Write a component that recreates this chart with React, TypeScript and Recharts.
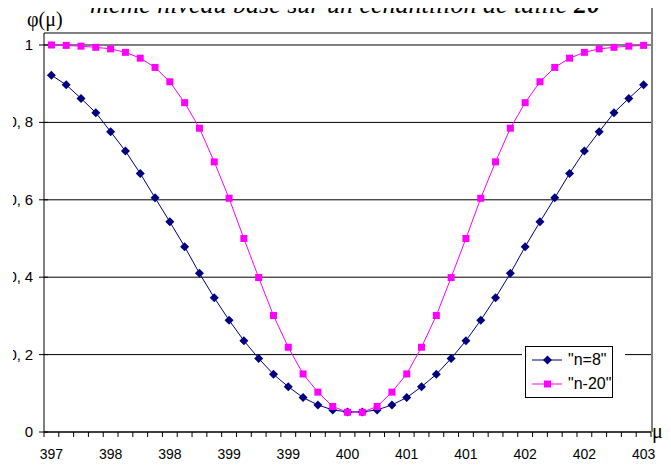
import { LineChart, Line, XAxis, YAxis, CartesianGrid } from 'recharts';

const muValues = [
  397, 397.15, 397.3, 397.45, 397.6, 397.75, 397.9, 398.05, 398.2, 398.35,
  398.5, 398.65, 398.8, 398.95, 399.1, 399.25, 399.4, 399.55, 399.7, 399.85,
  400, 400.15, 400.3, 400.45, 400.6, 400.75, 400.9, 401.05, 401.2, 401.35,
  401.5, 401.65, 401.8, 401.95, 402.1, 402.25, 402.4, 402.55, 402.7, 402.85, 403,
];

const phiN8 = [
  0.922, 0.897, 0.862, 0.825, 0.776, 0.726, 0.668, 0.605, 0.543, 0.479,
  0.41, 0.347, 0.289, 0.236, 0.19, 0.149, 0.117, 0.089, 0.07, 0.057,
  0.052, 0.052, 0.057, 0.07, 0.089, 0.117, 0.149, 0.19, 0.236, 0.289,
  0.347, 0.41, 0.479, 0.543, 0.605, 0.668, 0.726, 0.776, 0.825, 0.862, 0.897,
];

const phiN20 = [
  1.0, 0.999, 0.997, 0.994, 0.99, 0.981, 0.966, 0.942, 0.905, 0.851,
  0.785, 0.698, 0.604, 0.5, 0.399, 0.301, 0.219, 0.15, 0.103, 0.066,
  0.051, 0.051, 0.066, 0.103, 0.15, 0.219, 0.301, 0.399, 0.5, 0.604,
  0.698, 0.785, 0.851, 0.905, 0.942, 0.966, 0.981, 0.99, 0.994, 0.997, 0.999,
];

const yTicks = [0, 0.2, 0.4, 0.6, 0.8, 1];
const yTickLabels = ['0', '0,2', '0,4', '0,6', '0,8', '1'];

const data = muValues.map((mu, i) => ({ mu, n8: phiN8[i], n20: phiN20[i] }));

const CHART_W = 658;
const CHART_H = 468;
const MARGIN = { top: 33, right: 20, bottom: 0, left: 0 };
const Y_AXIS_W = 31;
const PLOT_W = CHART_W - MARGIN.left - MARGIN.right - Y_AXIS_W;
const BAND = PLOT_W / muValues.length;

const NAVY = '#000080';
const PINK = '#ff00ff';
const AXIS_FONT = 'Arial, "Liberation Sans", sans-serif';
const SERIF = '"Liberation Serif", "Times New Roman", serif';

const XTick = (props: any) => {
  const { x, y, index } = props;
  const left = x - BAND / 2;
  return (
    <g>
      <line x1={left} y1={y} x2={left} y2={y + 5} stroke="#000" />
      {index === muValues.length - 1 && (
        <line x1={x + BAND / 2} y1={y} x2={x + BAND / 2} y2={y + 5} stroke="#000" />
      )}
      {index % 4 === 0 && (
        <text x={x} y={y + 27} textAnchor="middle" fontSize={14} fontFamily={AXIS_FONT} fill="#000">
          {Math.round(muValues[index])}
        </text>
      )}
    </g>
  );
};

// "0,8" style labels: Excel spreads the decimal comma out a little
const YTick = (props: any) => {
  const { x, y, index } = props;
  const label = yTickLabels[index];
  const parts = label.includes(',') ? label.split(',') : null;
  return (
    <g>
      <line x1={x - 5} y1={y} x2={x + 4} y2={y} stroke="#000" />
      {parts ? (
        <>
          <text x={x - 23} y={y + 5} textAnchor="end" fontSize={15} fontFamily={AXIS_FONT} fill="#000">
            {parts[0] + ','}
          </text>
          <text x={x - 11} y={y + 5} textAnchor="end" fontSize={15} fontFamily={AXIS_FONT} fill="#000">
            {parts[1]}
          </text>
        </>
      ) : (
        <text x={x - 11} y={y + 5} textAnchor="end" fontSize={15} fontFamily={AXIS_FONT} fill="#000">
          {label}
        </text>
      )}
    </g>
  );
};

const Diamond = (props: any) => {
  const { cx, cy, index } = props;
  if (cx == null || cy == null) return <g key={index} />;
  const r = 4.5;
  return (
    <polygon
      key={index}
      points={`${cx},${cy - r} ${cx + r},${cy} ${cx},${cy + r} ${cx - r},${cy}`}
      fill={NAVY}
    />
  );
};

const Square = (props: any) => {
  const { cx, cy, index } = props;
  if (cx == null || cy == null) return <g key={index} />;
  return <rect key={index} x={cx - 3.5} y={cy - 3.5} width={7} height={7} fill={PINK} />;
};

const LegendRow = ({ color, square, label }: { color: string; square: boolean; label: string }) => (
  <div style={{ display: 'flex', alignItems: 'center', height: 24 }}>
    <svg width={32} height={12} style={{ marginLeft: 6 }}>
      <line x1={0} y1={6} x2={30} y2={6} stroke={color} />
      {square ? (
        <rect x={12} y={2.5} width={7} height={7} fill={color} />
      ) : (
        <polygon points="15.5,1.5 20,6 15.5,10.5 11,6" fill={NAVY} />
      )}
    </svg>
    <span style={{ marginLeft: 4, fontSize: 16, fontFamily: AXIS_FONT }}>{label}</span>
  </div>
);

export default function App() {
  return (
    <div style={{ position: 'relative', width: 671, height: 468, margin: -8, overflow: 'hidden', background: '#fff' }}>
      <div
        style={{
          position: 'absolute',
          left: 80,
          top: -9,
          width: 530,
          textAlign: 'center',
          fontFamily: SERIF,
          fontStyle: 'italic',
          fontSize: 26,
          whiteSpace: 'nowrap',
          lineHeight: '28px',
        }}
      >
        même niveau basé sur un échantillon de taille <b>20</b>
      </div>
      <div style={{ position: 'absolute', left: 27, top: 8, fontFamily: SERIF, fontSize: 20, lineHeight: '22px' }}>
        φ(μ)
      </div>
      <div style={{ position: 'absolute', left: 651, top: 7, width: 2, height: 425, background: '#808080' }} />
      <div style={{ position: 'absolute', left: 13, top: 0, width: CHART_W, height: CHART_H, overflow: 'hidden' }}>
        <LineChart width={CHART_W} height={CHART_H} data={data} margin={MARGIN}>
          <CartesianGrid vertical={false} stroke="#000" />
          <XAxis
            dataKey="mu"
            type="category"
            scale="band"
            interval={0}
            height={36}
            tickSize={0}
            tickMargin={0}
            tick={<XTick />}
            axisLine={{ stroke: '#000' }}
            tickLine={false}
          />
          <YAxis
            type="number"
            domain={[0, 1.031]}
            ticks={yTicks}
            width={Y_AXIS_W}
            tickSize={0}
            tickMargin={0}
            tick={<YTick />}
            axisLine={{ stroke: '#000' }}
            tickLine={false}
          />
          <Line dataKey="n8" stroke={NAVY} strokeWidth={1} dot={<Diamond />} isAnimationActive={false} />
          <Line dataKey="n20" stroke={PINK} strokeWidth={1} dot={<Square />} isAnimationActive={false} />
        </LineChart>
      </div>
      <div style={{ position: 'absolute', left: 652, top: 420, fontFamily: SERIF, fontSize: 20, lineHeight: '22px' }}>
        μ
      </div>
      <div style={{ position: 'absolute', left: 522, top: 344, width: 103, height: 56, background: '#fff' }} />
      <div
        style={{
          position: 'absolute',
          left: 525,
          top: 346,
          width: 86,
          height: 49,
          border: '1px solid #000',
          background: '#fff',
          paddingTop: 1,
        }}
      >
        <LegendRow color={NAVY} square={false} label={'"n=8"'} />
        <LegendRow color={PINK} square={true} label={'"n-20"'} />
      </div>
    </div>
  );
}
